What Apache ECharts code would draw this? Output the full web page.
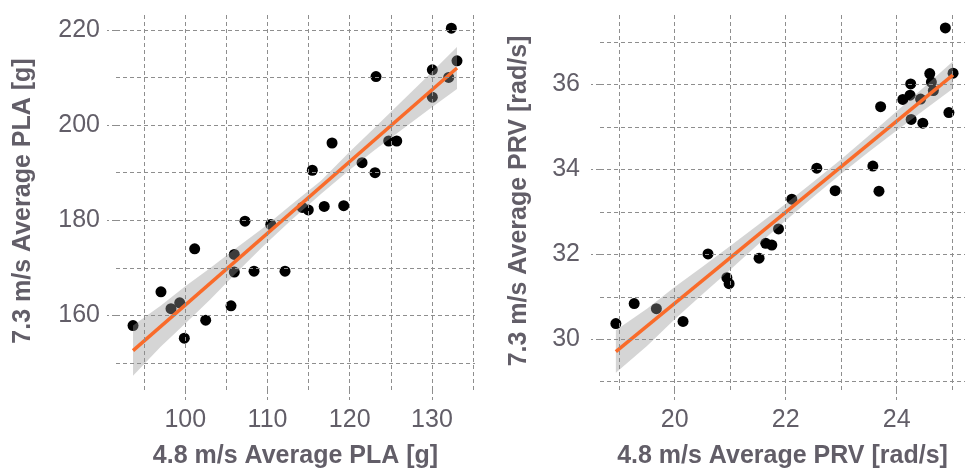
<!DOCTYPE html>
<html>
<head>
<meta charset="utf-8">
<script src="https://cdn.jsdelivr.net/npm/echarts@6/dist/echarts.min.js"></script>
<style>
html,body{margin:0;padding:0;background:#fff;}
#chart{width:965px;height:474px;}
</style>
</head>
<body>
<div id="chart"></div>
<script>
// ---- Left panel: PLA ----
const plaX = [132.36, 133.05, 130.05, 132.04, 123.2, 130.05, 124.74, 125.72, 117.85, 121.5, 123.08, 115.45, 114.23, 114.96, 116.9, 119.27, 107.26, 110.4, 101.14, 105.96, 105.96, 108.36, 112.13, 97.04, 98.26, 99.32, 105.56, 102.48, 93.64, 99.88];
const plaY = [220.36, 213.5, 211.6, 210.0, 210.2, 205.85, 196.65, 196.65, 196.23, 192.1, 190.0, 190.5, 182.7, 182.16, 182.9, 183.06, 179.8, 179.1, 174.0, 172.8, 169.1, 169.3, 169.3, 164.95, 161.4, 162.65, 162.0, 159.0, 157.85, 155.2];
const plaFitX = [93.64, 133.05];
const plaFitY = [152.6, 212.0];
const plaBandX = [93.64, 97, 100, 103, 106, 109.5, 113, 116.5, 120, 123, 126, 129.5, 133.05];
const plaBandLow = [147.3, 153.4, 158.3, 163.3, 168.6, 174.6, 180.2, 185.5, 190.6, 194.7, 198.6, 203.1, 207.6];
const plaBandHigh = [157.9, 162.0, 166.1, 169.9, 173.9, 178.4, 183.4, 188.3, 194.4, 199.4, 204.4, 210.3, 216.4];
const plaXRange = [91.57, 135.24];
const plaYRange = [144.32, 223.76];
const plaXTicks = [100, 110, 120, 130];
const plaYTicks = [160, 180, 200, 220];
const plaXGrid = [95, 100, 105, 110, 115, 120, 125, 130, 135];
const plaYGrid = [150, 160, 170, 180, 190, 200, 210, 220];

// ---- Right panel: PRV ----
const prvX = [24.876, 25.015, 24.595, 24.252, 24.624, 24.24, 24.11, 24.43, 24.66, 23.71, 24.26, 24.47, 24.94, 22.56, 23.57, 22.89, 23.68, 22.11, 21.87, 20.6, 21.64, 21.75, 21.52, 20.94, 20.98, 19.27, 19.67, 18.94, 20.15];
const prvY = [37.336, 36.27, 36.26, 36.016, 36.06, 35.75, 35.65, 35.66, 35.86, 35.48, 35.18, 35.09, 35.34, 34.03, 34.08, 33.5, 33.49, 33.3, 32.6, 32.01, 32.26, 32.22, 31.91, 31.45, 31.31, 30.84, 30.72, 30.37, 30.42];
const prvFitX = [18.94, 25.015];
const prvFitY = [29.71, 36.23];
const prvBandX = [18.94, 19.5, 20, 20.5, 21, 21.5, 22, 22.5, 23, 23.5, 24, 24.5, 25.015];
const prvBandLow = [29.21, 29.84, 30.47, 31.06, 31.64, 32.23, 32.80, 33.36, 33.90, 34.42, 34.92, 35.41, 35.91];
const prvBandHigh = [30.21, 30.72, 31.23, 31.71, 32.20, 32.69, 33.19, 33.71, 34.24, 34.80, 35.37, 35.95, 36.55];
const prvXRange = [18.654, 25.23];
const prvYRange = [28.805, 37.71];
const prvXTicks = [20, 22, 24];
const prvYTicks = [30, 32, 34, 36];
const prvXGrid = [19, 20, 21, 22, 23, 24, 25];
const prvYGrid = [29, 30, 31, 32, 33, 34, 35, 36, 37];

const TXT = '#625e68';
const GRIDC = '#8e8e8e';
const FONT = 'Liberation Sans, Arial, sans-serif';

function zip(a, b) { return a.map((v, i) => [v, b[i]]); }

function xAxisDef(gi, range, ticks, name) {
  return {
    gridIndex: gi, type: 'value', min: range[0], max: range[1],
    axisLine: { show: false }, splitLine: { show: false },
    axisTick: { show: true, customValues: ticks, length: 10, lineStyle: { color: GRIDC, type: [4, 3], width: 1 } },
    axisLabel: { customValues: ticks, fontSize: 25, color: TXT, margin: 18, fontFamily: FONT },
    name: name, nameLocation: 'middle', nameGap: 54,
    nameTextStyle: { fontSize: 25, fontWeight: 'bold', color: TXT, fontFamily: FONT }
  };
}
function yAxisDef(gi, range, ticks, name, gap, lm) {
  return {
    gridIndex: gi, type: 'value', min: range[0], max: range[1],
    axisLine: { show: false }, splitLine: { show: false },
    axisTick: { show: true, customValues: ticks, length: 9, lineStyle: { color: GRIDC, type: [4, 3], width: 1 } },
    axisLabel: { customValues: ticks, fontSize: 25, color: TXT, margin: lm, fontFamily: FONT },
    name: name, nameLocation: 'middle', nameGap: gap, nameRotate: 90,
    nameTextStyle: { fontSize: 25, fontWeight: 'bold', color: TXT, fontFamily: FONT }
  };
}
function gridSeries(idx, xs, ys) {
  return {
    type: 'scatter', xAxisIndex: idx, yAxisIndex: idx, data: [], z: 1, silent: true,
    markLine: {
      silent: true, symbol: ['none', 'none'], animation: false,
      label: { show: false },
      lineStyle: { color: GRIDC, type: [4, 3], width: 1 },
      emphasis: { disabled: true },
      data: xs.map(v => ({ xAxis: v })).concat(ys.map(v => ({ yAxis: v })))
    }
  };
}
function bandSeries(idx, bx, lo, hi) {
  return {
    type: 'custom', xAxisIndex: idx, yAxisIndex: idx, z: 3, silent: true,
    data: [[bx[0], lo[0]]],
    renderItem: function (params, api) {
      const pts = [];
      for (let i = 0; i < bx.length; i++) pts.push(api.coord([bx[i], hi[i]]));
      for (let i = bx.length - 1; i >= 0; i--) pts.push(api.coord([bx[i], lo[i]]));
      return { type: 'polygon', shape: { points: pts }, style: { fill: 'rgba(150,150,150,0.4)' } };
    }
  };
}
function pointSeries(idx, xs, ys) {
  return { type: 'scatter', xAxisIndex: idx, yAxisIndex: idx, z: 2, symbolSize: 11, itemStyle: { color: '#000', opacity: 1 }, data: zip(xs, ys) };
}
function fitSeries(idx, xs, ys) {
  return { type: 'line', xAxisIndex: idx, yAxisIndex: idx, z: 4, symbol: 'none', lineStyle: { color: '#F96B2A', width: 3.5 }, data: zip(xs, ys) };
}

const chart = echarts.init(document.getElementById('chart'), null, { renderer: 'canvas' });
chart.setOption({
  animation: false,
  backgroundColor: '#fff',
  grid: [
    { left: 116, top: 12, width: 359, height: 380 },
    { left: 600, top: 12, width: 365, height: 380 }
  ],
  xAxis: [
    xAxisDef(0, plaXRange, plaXTicks, '4.8 m/s Average PLA [g]'),
    xAxisDef(1, prvXRange, prvXTicks, '4.8 m/s Average PRV [rad/s]')
  ],
  yAxis: [
    yAxisDef(0, plaYRange, plaYTicks, '7.3 m/s Average PLA [g]', 80, 16),
    yAxisDef(1, prvYRange, prvYTicks, '7.3 m/s Average PRV [rad/s]', 68, 20)
  ],
  series: [
    gridSeries(0, plaXGrid, plaYGrid),
    gridSeries(1, prvXGrid, prvYGrid),
    pointSeries(0, plaX, plaY),
    pointSeries(1, prvX, prvY),
    bandSeries(0, plaBandX, plaBandLow, plaBandHigh),
    bandSeries(1, prvBandX, prvBandLow, prvBandHigh),
    fitSeries(0, plaFitX, plaFitY),
    fitSeries(1, prvFitX, prvFitY)
  ]
});
</script>
</body>
</html>
